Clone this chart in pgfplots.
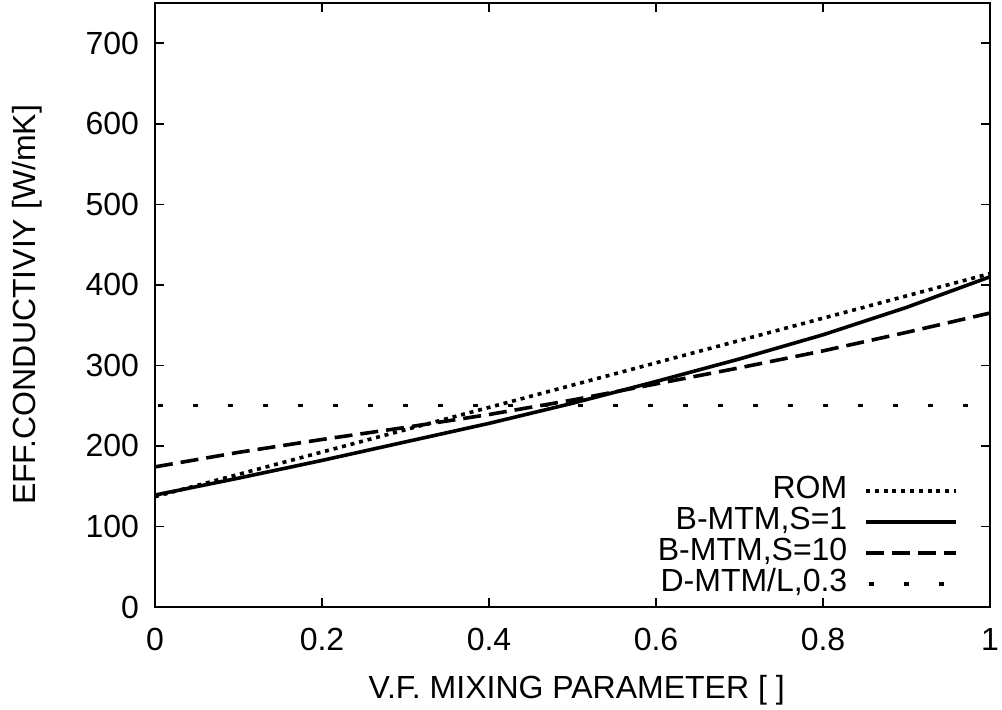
\documentclass[border=0pt]{standalone}
\usepackage{fontspec}
\setmainfont{Liberation Sans}
\usepackage{pgfplots}
\pgfplotsset{compat=1.18}

% px -> pt : 1px = 0.5pt
\pgfplotstableread{
f    rom
0.0  137
1.0  414
}\romdata
\pgfplotstableread{
f    k
0.0  139
0.1  160
0.2  182
0.3  205
0.4  228
0.5  253
0.6  280
0.7  308
0.8  338
0.9  372
1.0  410
}\smtmone
\pgfplotstableread{
f    k
0.0  174
0.1  192
0.2  208
0.3  223
0.4  239
0.5  257
0.6  277
0.7  297
0.8  318
0.9  341
1.0  365
}\smtmten
\pgfplotstableread{
f    k
0.0  250
1.0  250
}\dmtm

\begin{document}
\begin{tikzpicture}
\begin{axis}[
  scale only axis,
  width=417.5pt, height=302pt,
  xmin=0, xmax=1, ymin=0, ymax=750,
  xtick={0,0.2,...,1.0},
  ytick={0,100,...,700},
  xticklabels={0,0.2,0.4,0.6,0.8,1},
  tick align=inside,
  major tick length=4.5pt,
  axis line style={line width=1pt},
  every tick/.style={line width=0.8pt, black},
  font=\fontsize{16}{19}\selectfont,
  /pgf/number format/assume math mode=true,
  yticklabel style={xshift=-4.5pt},
  xticklabel style={yshift=-7pt},
  xlabel={V.F. MIXING PARAMETER [ ]},
  ylabel={EFF.CONDUCTIVIY [W/mK]},
  xlabel style={at={(axis description cs:0.505,-0.137)}, anchor=center},
  ylabel style={at={(axis description cs:-0.153,0.5)}, anchor=center},
  legend plot pos=right,
  legend cell align=right,
  legend style={at={(0.962,0.012)}, anchor=south east, draw=none, fill=none,
                font=\fontsize{16}{19}\selectfont, row sep=0pt, inner sep=0pt,
                nodes={inner sep=0pt, text height=11.5pt, text depth=4pt}},
  legend image code/.code={\path (0pt,0pt); \draw[#1] (8.5pt,0pt) -- (53.5pt,0pt);},
]
\addplot[black, line width=1.8pt, dash pattern=on 2pt off 2.4pt] table[x=f, y=rom] {\romdata};
\addlegendentry{ROM}
\addplot[black, line width=1.8pt] table[x=f, y=k] {\smtmone};
\addlegendentry{B-MTM,S=1}
\addplot[black, line width=1.8pt, dash pattern=on 9pt off 4pt] table[x=f, y=k] {\smtmten};
\addlegendentry{B-MTM,S=10}
\addplot[black, line width=1.8pt, dash pattern=on 2.5pt off 15pt, dash phase=-19pt] table[x=f, y=k] {\dmtm};
\addlegendentry{D-MTM/L,0.3}
\end{axis}
\pgfresetboundingbox
\path[use as bounding box] (-77.5pt,-51.5pt) rectangle (423.5pt,303.5pt);
\end{tikzpicture}
\end{document}
